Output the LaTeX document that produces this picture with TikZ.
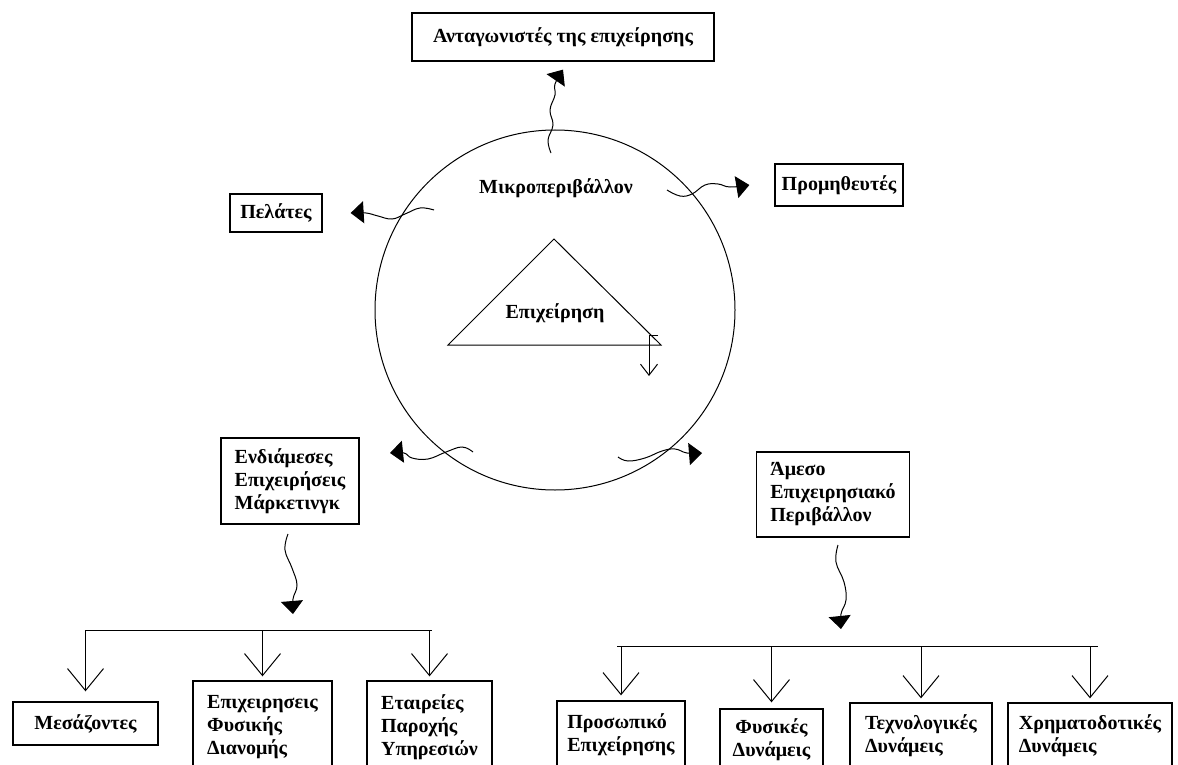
\documentclass[tikz,border=0pt]{standalone}
\usepackage{fontspec}
\setmainfont{Liberation Serif}
\usetikzlibrary{arrows.meta}

\begin{document}
\begin{tikzpicture}[x=1pt,y=-1pt,
  every node/.style={font=\fontsize{20pt}{23pt}\selectfont\bfseries},
  box/.style={draw,line width=1.3pt,inner sep=0pt},
  fat/.style={line width=1pt,-{Triangle[width=22pt,length=13pt]}},
  vee/.style={line width=1pt,-{Straight Barb[width=36pt,length=22pt]}},
  wiggle/.style={fat,smooth,tension=0.7}]
  \useasboundingbox (0,0) rectangle (1178,765);
  \clip (0,0) rectangle (1178,765);

  % boxes round the environment
  \node[box,minimum width=302pt,minimum height=48pt] (comp) at (563,37) {Ανταγωνιστές της επιχείρησης};
  \node[box,minimum width=128pt,minimum height=42pt] (supp) at (839,185) {Προμηθευτές};
  \node[box,minimum width=92pt,minimum height=38pt] (cust) at (276,213) {Πελάτες};
  \node[box,minimum width=138pt,minimum height=86pt,align=left] (inter) at (290,481) {Ενδιάμεσες\\Επιχειρήσεις\\Μάρκετινγκ};
  \node[box,minimum width=153pt,minimum height=85pt,align=left] (direct) at (833,494.5) {Άμεσο\\Επιχειρησιακό\\Περιβάλλον};

  % lower row
  \node[box,minimum width=145pt,minimum height=43pt] (med) at (85.5,723.5) {Μεσάζοντες};
  \node[box,minimum width=139pt,minimum height=92pt,align=left] (phys) at (262.5,727) {Επιχειρησεις\\Φυσικής\\Διανομής};
  \node[box,minimum width=125pt,minimum height=92pt,align=left] (serv) at (429.5,727) {Εταιρείες\\Παροχής\\Υπηρεσιών};
  \node[box,minimum width=128pt,minimum height=67pt,align=left] (staff) at (621,734.5) {Προσωπικό\\Επιχείρησης};
  \node[box,minimum width=103pt,minimum height=62pt,align=center] (nat) at (771.5,740) {Φυσικές\\Δυνάμεις};
  \node[box,minimum width=142pt,minimum height=66pt,align=left] (tech) at (921,736) {Τεχνολογικές\\Δυνάμεις};
  \node[box,minimum width=164pt,minimum height=66pt,align=left] (fin) at (1090,736) {Χρηματοδοτικές\\Δυνάμεις};

  % circle and triangle
  \node[draw,circle,line width=1pt,minimum size=360pt,inner sep=0pt] (env) at (555,310) {};
  \node (micro) at (556,188) {Μικροπεριβάλλον};
  \coordinate (apex) at (554,239);
  \coordinate (baseL) at (448,345);
  \coordinate (baseR) at (661,345);
  \draw[line width=1pt] (apex) -- (baseL) -- (baseR) -- cycle;
  \node (firm) at (555,313) {Επιχείρηση};
  \coordinate (hook) at (658,335);
  \draw[line width=1pt,-{Straight Barb[width=17pt,length=11pt]}] (hook) -- (649,335) -- (649,376);

  % wavy arrows out of the circle
  \coordinate (compIn) at ([yshift=-8pt]comp.south);
  \coordinate (suppIn) at ([xshift=-25pt]supp.west);
  \coordinate (custIn) at ([xshift=28pt]cust.east);
  \draw[wiggle] plot coordinates {(551,153) (548,140) (553,125) (550,110) (555,95) (555,84) (compIn)};
  \draw[wiggle] plot coordinates {(667,190) (680,196) (692,194) (705,185) (718,184) (730,187) (suppIn)};
  \draw[wiggle] plot coordinates {(434,210) (420,208) (405,214) (392,219) (378,216) (366,213) (custIn)};
  \draw[wiggle] plot coordinates {(473,452) (462,447) (446,452) (428,459) (412,458) (404,453) (390,453)};
  \draw[wiggle] plot coordinates {(618,457) (628,461) (645,458) (662,451) (675,449) (687,453) (702,453)};
  \draw[wiggle] plot coordinates {(288,534) (285,550) (292,568) (297,585) (293,599) (293,614)};
  \draw[wiggle] plot coordinates {(838,545) (836,562) (844,582) (846,600) (841,614) (841,629)};

  % left tree
  \coordinate (barL) at (85,630);
  \coordinate (barLend) at (432,630);
  \draw[line width=1pt] (barL) -- (barLend);
  \draw[vee,shorten >=10pt] (barL -| med.north) -- (med.north);
  \draw[vee,shorten >=4pt] (barL -| phys.north) -- (phys.north);
  \draw[vee,shorten >=4pt] (barL -| serv.north) -- (serv.north);

  % right tree
  \coordinate (barR) at (617,646);
  \coordinate (barRend) at (1098,646);
  \draw[line width=1pt] (barR) -- (barRend);
  \draw[vee,shorten >=5pt] (barR -| staff.north) -- (staff.north);
  \draw[vee,shorten >=6pt] (barR -| nat.north) -- (nat.north);
  \draw[vee,shorten >=4pt] (barR -| tech.north) -- (tech.north);
  \draw[vee,shorten >=4pt] (barR -| fin.north) -- (fin.north);
\end{tikzpicture}
\end{document}
